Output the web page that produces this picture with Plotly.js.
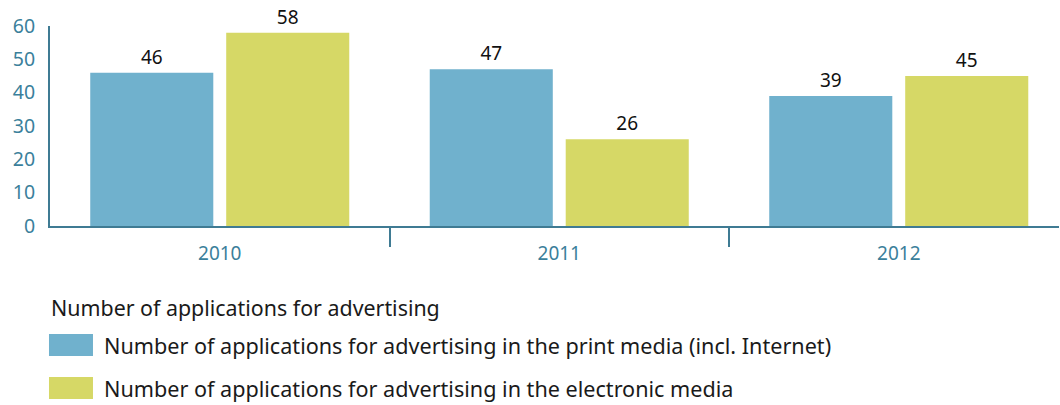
<!DOCTYPE html>
<html>
<head>
<meta charset="utf-8">
<script src="https://cdn.plot.ly/plotly-3.0.1.min.js"></script>
<style>html,body{margin:0;padding:0;background:#fff;}#chart{width:1060px;height:405px;}</style>
</head>
<body>
<div id="chart"></div>
<script>
const years = ['2010', '2011', '2012'];
const printMedia = [46, 47, 39];
const electronicMedia = [58, 26, 45];
const seriesNames = [
  'Number of applications for advertising in the print media (incl. Internet)',
  'Number of applications for advertising in the electronic media'
];
const legendTitle = 'Number of applications for advertising';
const colors = ['#70b1cd', '#d6d866'];
const yTicks = [0, 10, 20, 30, 40, 50, 60];

const FONT = 'Noto Sans, Open Sans, sans-serif';
const AXIS = '#3f7b93';
const TICKTXT = '#3b7f9b';
const XRANGE = [-0.5, 2.472];

const traces = [printMedia, electronicMedia].map((vals, i) => ({
  type: 'bar', x: years, y: vals, name: seriesNames[i],
  marker: {color: colors[i], line: {width: 0}},
  text: vals.map(String), textposition: 'outside', cliponaxis: false,
  textfont: {family: FONT, size: 19, color: '#111'},
  hoverinfo: 'x+y', showlegend: false
}));
// invisible trace to drive boundary ticks on a helper axis
traces.push({type: 'scatter', x: [0], y: [0], xaxis: 'x2', yaxis: 'y', mode: 'markers',
  marker: {opacity: 0}, showlegend: false, hoverinfo: 'skip'});

const shapes = [], annotations = [];
const rowY = [-0.595, -0.81];
seriesNames.forEach((n, i) => {
  shapes.push({type: 'rect', xref: 'paper', yref: 'paper', x0: -0.001, x1: 0.0426,
    y0: rowY[i] + 0.055, y1: rowY[i] - 0.055, fillcolor: colors[i], line: {width: 0}});
  annotations.push({xref: 'paper', yref: 'paper', x: 0.0515, y: rowY[i], xanchor: 'left', yanchor: 'middle',
    text: n, showarrow: false, font: {family: FONT, size: 21.6, color: '#1a1a1a'}});
});
annotations.push({xref: 'paper', yref: 'paper', x: -0.001, y: -0.405, xanchor: 'left', yanchor: 'middle',
  text: legendTitle, showarrow: false, font: {family: FONT, size: 21.4, color: '#1a1a1a'}});

const layout = {
  width: 1060, height: 405,
  margin: {l: 50, r: 1, t: 26, b: 179},
  paper_bgcolor: '#fff', plot_bgcolor: '#fff',
  barmode: 'group', bargap: 0.199, bargroupgap: 0.095,
  showlegend: false,
  font: {family: FONT},
  xaxis: {type: 'category', range: XRANGE, showline: true, linecolor: AXIS, linewidth: 2,
    ticks: '', tickfont: {family: FONT, size: 19, color: TICKTXT}, showgrid: false, zeroline: false,
    ticklabelstandoff: 9, fixedrange: true},
  xaxis2: {overlaying: 'x', range: XRANGE, tickvals: [0.5, 1.5], ticks: 'outside', ticklen: 20,
    tickwidth: 2, tickcolor: AXIS, showticklabels: false, showgrid: false, zeroline: false,
    showline: false, side: 'bottom', anchor: 'y'},
  yaxis: {range: [0, 60], tickvals: yTicks, ticktext: yTicks.map(String), showline: true, linecolor: AXIS,
    linewidth: 2, ticks: '', showgrid: false, zeroline: false, ticklabelstandoff: 9,
    tickfont: {family: FONT, size: 19.5, color: TICKTXT}, fixedrange: true},
  shapes: shapes, annotations: annotations
};
Plotly.newPlot('chart', traces, layout, {displayModeBar: false, staticPlot: true});
</script>
</body>
</html>
